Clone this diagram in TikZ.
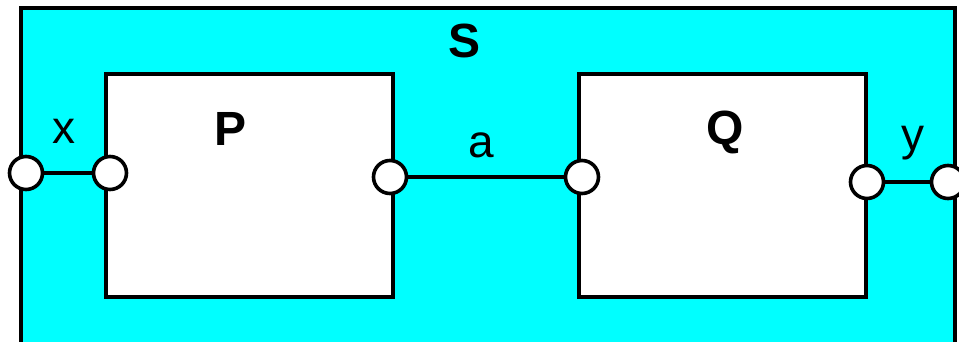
\documentclass[tikz,border=0pt]{standalone}
\usepackage{fontspec}
\setmainfont{Liberation Sans}
\usepackage{tikz}
\usetikzlibrary{positioning,calc}
\definecolor{SysCyan}{HTML}{00FFFF}
\tikzset{
  blk/outer/.style={draw, line width=2pt, fill=SysCyan, inner sep=0pt, minimum width=467pt, minimum height=186pt},
  blk/inner/.style={draw, line width=2pt, fill=white, inner sep=0pt, minimum width=143.5pt, minimum height=111.25pt},
  blk/port/.style={draw, circle, line width=1.8pt, fill=white, inner sep=0pt, minimum size=16.5pt},
  blk/wire/.style={line width=1.6pt},
  blk/name/.style={font=\fontsize{24}{28}\selectfont\bfseries, inner sep=0pt, anchor=base},
  blk/label/.style={font=\fontsize{23}{28}\selectfont, inner sep=0pt, anchor=base}
}

\begin{document}
\begin{tikzpicture}[x=0.5pt, y=-0.5pt]
  \useasboundingbox (0,0) rectangle (959,342);
  \clip (0,0) rectangle (959,342);

  % system S and its two parts
  \node[blk/outer] (S) at (488,194) {};
  \node[blk/inner] (P) at (249.5,185.25) {};
  \node[blk/inner] (Q) at (722.5,185.25) {};

  \node[blk/name] (Slbl) at (465,58) {S};
  \node[blk/name] (Plbl) at (231,146) {P};
  \node[blk/name] (Qlbl) at (725,145) {Q};

  % ports
  \node[blk/port] (sx) at (26,173) {};
  \node[blk/port] (px) at (110,173) {};
  \node[blk/port] (pa) at (390,177) {};
  \node[blk/port] (qa) at (582,177) {};
  \node[blk/port] (qy) at (867,182) {};
  \node[blk/port] (sy) at (948,182) {};

  \draw[blk/wire] (sx) -- (px);
  \draw[blk/wire] (pa) -- (qa);
  \draw[blk/wire] (qy) -- (sy);

  \node[blk/label] (xlbl) at (64,144) {x};
  \node[blk/label] (albl) at (481,158) {a};
  \node[blk/label] (ylbl) at (913,151) {y};
\end{tikzpicture}
\end{document}
